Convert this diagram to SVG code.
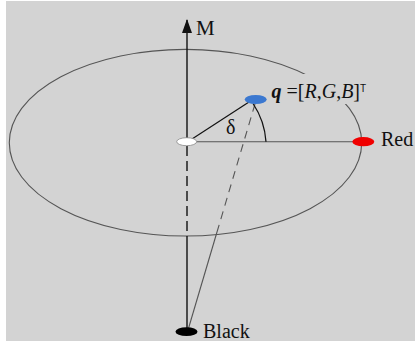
<svg xmlns="http://www.w3.org/2000/svg" width="415" height="344" viewBox="0 0 415 344">
<defs>
<style>
.lbl{font-family:"Liberation Serif","Times New Roman",serif;fill:#111}
.ax{stroke:#111;stroke-width:1.4;fill:none}
.gr{stroke:#555;stroke-width:1.1;fill:none}
.pt{stroke-width:0.8}
</style>
<marker id="arr" viewBox="0 0 14 10" refX="13" refY="5" markerWidth="14" markerHeight="10" markerUnits="userSpaceOnUse" orient="auto">
<path d="M0,0 L14,5 L0,10 Z" fill="#111"/>
</marker>
</defs>
<rect width="415" height="344" fill="#fff"/>
<rect x="6" y="1" width="409" height="340" fill="#d3d3d3"/>
<g id="sphere">
<ellipse cx="185.5" cy="142.7" rx="176.2" ry="93.3" class="gr"/>
</g>
<g id="connectors">
<line x1="187" y1="141.7" x2="187" y2="20" class="ax" marker-end="url(#arr)"/>
<line x1="187" y1="146" x2="187" y2="236" class="ax" stroke-dasharray="10,5"/>
<line x1="187" y1="236" x2="187" y2="331" class="ax"/>
<line x1="196" y1="141.7" x2="353" y2="141.7" class="gr"/>
<line x1="192" y1="139" x2="249" y2="102" stroke="#111" stroke-width="1.2"/>
<line x1="255" y1="104" x2="217" y2="232" class="gr" stroke-dasharray="8,6"/>
<line x1="217" y1="232" x2="188" y2="330" class="gr"/>
<path d="M253,103.5 A78.5,78.5 0 0 1 266,141.7" stroke="#111" stroke-width="1.3" fill="none"/>
<text x="226" y="133.5" class="lbl" font-size="20">δ</text>
</g>
<g id="axis-M">
<text x="196" y="35" class="lbl" font-size="21">M</text>
</g>
<g id="origin">
<ellipse cx="186.7" cy="141.7" rx="10" ry="4" fill="#fff" stroke="#888" class="pt"/>
</g>
<g id="q">
<rect x="268" y="74" width="84" height="30" fill="#d3d3d3"/>
<ellipse cx="255.7" cy="99.5" rx="11" ry="4.5" fill="#3b78d0"/>
<text x="271.5" y="98" class="lbl" font-size="20"><tspan font-weight="bold" font-style="italic">q</tspan> =[<tspan font-style="italic">R</tspan>,<tspan font-style="italic">G</tspan>,<tspan font-style="italic">B</tspan>]<tspan font-family="'Liberation Sans',Arial,sans-serif" font-size="10" dy="-6">T</tspan></text>
</g>
<g id="red">
<ellipse cx="363.3" cy="141.7" rx="11" ry="4.6" fill="#f00000"/>
<text x="381" y="146" class="lbl" font-size="20">Red</text>
</g>
<g id="black">
<ellipse cx="186.5" cy="331.7" rx="11" ry="4.4" fill="#000"/>
<text x="203" y="337.5" class="lbl" font-size="20">Black</text>
</g>
</svg>
